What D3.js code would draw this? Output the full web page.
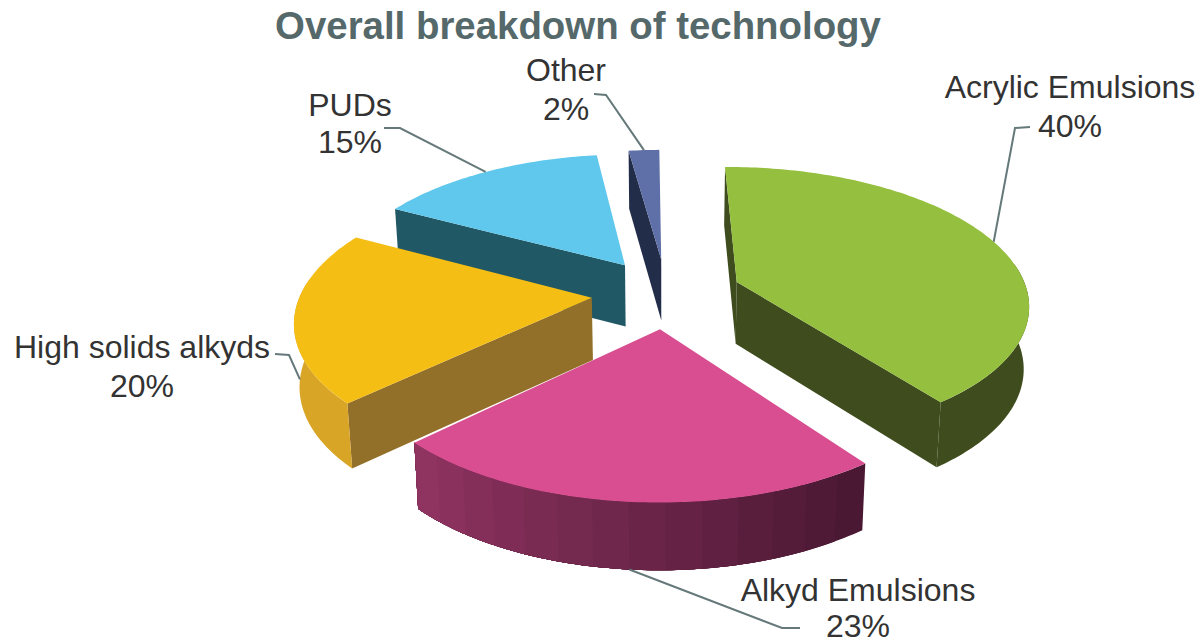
<!DOCTYPE html>
<html>
<head>
<meta charset="utf-8">
<style>
html,body{margin:0;padding:0;background:#fff;overflow:hidden}
svg{display:block}
</style>
<script src="https://cdn.jsdelivr.net/npm/d3@7/dist/d3.min.js"></script>
</head>
<body>
<svg id="chart" width="1200" height="644"></svg>
<script>
const categories = ["Acrylic Emulsions","Alkyd Emulsions","High solids alkyds","PUDs","Other"];
const values = [40,23,20,15,2];
const title = "Overall breakdown of technology";

const topColors  = ["#95BF3E","#D84E91","#F5BE15","#5FC8EC","#5F70A8"];
const edgeColors = ["#3F4D1E","#4A1833","#93702A","#215865","#222D49"];
const rimFrom    = ["#3F4D1E","#8F3360","#D9A526","#215865","#222D49"];
const rimTo      = ["#3F4D1E","#4A1833","#D9A526","#215865","#222D49"];
const rimBands   = [1,14,1,1,1];

// projection of the tilted pie
const cx=666.5, cy=293, R=291, explode=75, K=0.465, D=1942, H=62, taper=0.985;
const rotation=-0.6*Math.PI/180;
const rimVisibleFrom=82*Math.PI/180, rimVisibleTo=278*Math.PI/180;
function project(u,v,bottom){
  const s=D/(D-v);
  let X=u*s, Y=K*v*s;
  if(bottom){ Y+=H*(0.6+0.4*s); X*=taper; }
  return [cx+X,cy+Y];
}
const pieGen=d3.pie().sort(null).startAngle(rotation).endAngle(2*Math.PI+rotation);
const arcs=pieGen(values).map((d,i)=>{
  const mid=(d.startAngle+d.endAngle)/2;
  return {i,a0:d.startAngle,a1:d.endAngle,mid,ou:explode*Math.sin(mid),ov:-explode*Math.cos(mid)};
});
const apex=(d,b)=>project(d.ou,d.ov,b);
const rim=(d,a,b)=>project(d.ou+R*Math.sin(a),d.ov-R*Math.cos(a),b);
const arcPts=(d,a0,a1,b)=>{
  const n=Math.max(2,Math.ceil(Math.abs(a1-a0)/(Math.PI/180)));
  return d3.range(n+1).map(k=>rim(d,a0+(a1-a0)*k/n,b));
};
const line=d3.line();
const closed=pts=>line(pts)+"Z";
const svg=d3.select("#chart");

const order=arcs.slice().sort((p,q)=>p.ov-q.ov);
order.forEach(d=>{
  const g=svg.append("g");
  const col=d3.interpolateRgb(rimFrom[d.i],rimTo[d.i]);
  const nb=rimBands[d.i];
  // cut faces that look toward the viewer
  [[d.a0,-Math.sin(d.a0)],[d.a1,Math.sin(d.a1)]].forEach(([a,facing])=>{
    if(facing<=0) return;
    g.append("path")
      .attr("d",closed([apex(d,false),rim(d,a,false),rim(d,a,true),apex(d,true)]))
      .attr("fill",edgeColors[d.i]);
  });
  // outer wall, stepped in bands; each band runs on to the end so no seam shows
  const w0=Math.max(d.a0,rimVisibleFrom), w1=Math.min(d.a1,rimVisibleTo);
  if(w1>w0){
    d3.range(nb).forEach(k=>{
      const a=w0+(w1-w0)*k/nb;
      const t=nb>1?1-k/(nb-1):0;
      g.append("path")
        .attr("d",closed(arcPts(d,a,w1,false).concat(arcPts(d,w1,a,true))))
        .attr("fill",col(t));
    });
  }
  // top face
  g.append("path")
    .attr("d",closed([apex(d,false)].concat(arcPts(d,d.a0,d.a1,false))))
    .attr("fill",topColors[d.i]);
});

// label placement: text centre, two baselines, elbow of the leader, its end, and whether the leader meets the lower rim
const labelLayout=[
  {x:1070,y:[98,137],elbow:[1015,128],end:[1030,127],low:false},
  {x:858,y:[601,637],elbow:[782,628],end:[800,628],low:true},
  {x:142,y:[358,397],elbow:[289,355],end:[275,354],low:true},
  {x:350,y:[116,153],elbow:[400,128],end:[384,128],low:false},
  {x:566,y:[81,120],elbow:[606,95],end:[594,94],low:false}
];
arcs.forEach(d=>{
  const L=labelLayout[d.i];
  svg.append("path")
    .attr("d",line([rim(d,d.mid,L.low),L.elbow,L.end]))
    .attr("fill","none").attr("stroke","#66797A").attr("stroke-width",2);
  const t=svg.append("text").attr("text-anchor","middle")
    .attr("font-family","'Liberation Sans',Arial,sans-serif").attr("font-size",32).attr("fill","#333");
  t.append("tspan").attr("x",L.x).attr("y",L.y[0]).text(categories[d.i]);
  t.append("tspan").attr("x",L.x).attr("y",L.y[1]).text(values[d.i]+"%");
});
svg.append("text").attr("x",578).attr("y",39).attr("text-anchor","middle")
  .attr("font-family","'Liberation Sans',Arial,sans-serif").attr("font-weight","bold")
  .attr("font-size",38.4).attr("fill","#55696B").text(title);
</script>
</body>
</html>
